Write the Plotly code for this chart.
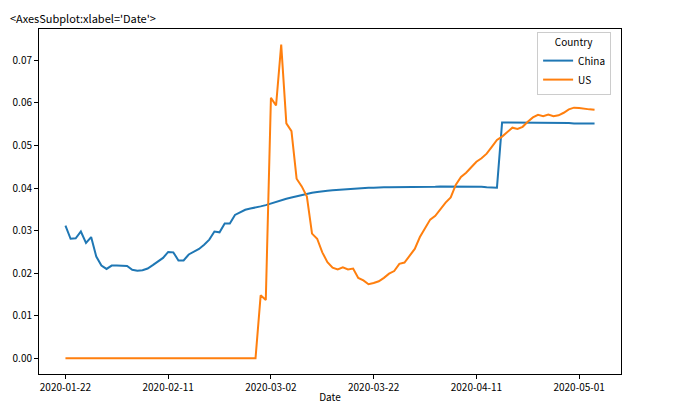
import pandas as pd
import plotly.graph_objects as go

start_date = "2020-01-22"

china = [
    0.0312, 0.0281, 0.0282, 0.0298, 0.0271, 0.0285, 0.0239, 0.0218, 0.0210, 0.0218,
    0.0218, 0.0218, 0.0217, 0.0208, 0.0206, 0.0207, 0.0211, 0.0219, 0.0227, 0.0236,
    0.0250, 0.0249, 0.0230, 0.0230, 0.0244, 0.0250, 0.0257, 0.0267, 0.0279, 0.0298,
    0.0296, 0.0317, 0.0317, 0.0337, 0.0344, 0.0349, 0.0352, 0.0354, 0.0357, 0.0360,
    0.0364, 0.0368, 0.0372, 0.0375, 0.0378, 0.0381, 0.0384, 0.0386, 0.0389, 0.0391,
    0.0393, 0.0394, 0.0395, 0.0396, 0.0397, 0.0398, 0.0399, 0.0400, 0.0400, 0.0401,
    0.0401, 0.0402, 0.0402, 0.0402, 0.0402, 0.0402, 0.0402, 0.0402, 0.0403, 0.0403,
    0.0403, 0.0403, 0.0403, 0.0404, 0.0404, 0.0404, 0.0404, 0.0404, 0.0404, 0.0403,
    0.0403, 0.0403, 0.0402, 0.0402, 0.0401,
    0.0554, 0.0554, 0.0554, 0.0554, 0.0554, 0.0553, 0.0553, 0.0553, 0.0553, 0.0553,
    0.0553, 0.0553, 0.0553, 0.0553, 0.0552, 0.0552, 0.0552, 0.0552, 0.0552,
]

us = [
    0.0, 0.0, 0.0, 0.0, 0.0, 0.0, 0.0, 0.0, 0.0, 0.0,
    0.0, 0.0, 0.0, 0.0, 0.0, 0.0, 0.0, 0.0, 0.0, 0.0,
    0.0, 0.0, 0.0, 0.0, 0.0, 0.0, 0.0, 0.0, 0.0, 0.0,
    0.0, 0.0, 0.0, 0.0, 0.0, 0.0, 0.0, 0.0,
    0.0148, 0.0137, 0.0612, 0.0594, 0.0737, 0.0552, 0.0534, 0.0422, 0.0404, 0.0380,
    0.0293, 0.0281, 0.0249, 0.0226, 0.0213, 0.0209, 0.0214, 0.0209, 0.0211, 0.0189,
    0.0183, 0.0174, 0.0177, 0.0181, 0.0189, 0.0199, 0.0205, 0.0222, 0.0225, 0.0241,
    0.0257, 0.0285, 0.0306, 0.0326, 0.0335, 0.0351, 0.0366, 0.0378, 0.0408, 0.0426,
    0.0436, 0.0449, 0.0462, 0.0470, 0.0481, 0.0497, 0.0513, 0.0521, 0.0532, 0.0542,
    0.0539, 0.0544, 0.0556, 0.0566, 0.0572, 0.0569, 0.0573, 0.0569, 0.0571, 0.0577,
    0.0585, 0.0589, 0.0588, 0.0586, 0.0585, 0.0584,
]

x_ticks = ["2020-01-22", "2020-02-11", "2020-03-02", "2020-03-22", "2020-04-11", "2020-05-01"]
y_ticks = [0.00, 0.01, 0.02, 0.03, 0.04, 0.05, 0.06, 0.07]

dates = pd.date_range(start_date, periods=len(china), freq="D")

FONT = "Noto Sans CJK SC"

fig = go.Figure()
fig.add_trace(go.Scatter(x=dates, y=china, mode="lines", name="China",
                         line=dict(color="#1f77b4", width=2)))
fig.add_trace(go.Scatter(x=dates, y=us, mode="lines", name="US",
                         line=dict(color="#ff7f0e", width=2)))

span = dates[-1] - dates[0]
pad = span * 0.05
x_range = [dates[0] - pad, dates[-1] + pad]
ymax = max(max(china), max(us))
ymin = min(min(china), min(us))
ypad = (ymax - ymin) * 0.05

# page body has an 8px default margin; size the figure so it fits the window
fig.update_layout(
    width=681, height=396,
    margin=dict(l=31, r=68, t=21, b=30, autoexpand=False),
    paper_bgcolor="white", plot_bgcolor="white",
    font=dict(family=FONT, size=10, color="black"),
    showlegend=True,
    legend=dict(
        title=dict(text="Country", side="top center", font=dict(family=FONT, size=10)),
        x=0.983, xanchor="right", y=0.991, yanchor="top",
        bordercolor="#cccccc", borderwidth=1, bgcolor="rgba(255,255,255,0.8)",
        font=dict(family=FONT, size=10), tracegroupgap=0, itemwidth=30,
    ),
    xaxis=dict(
        range=x_range, showgrid=False, zeroline=False, automargin=False,
        showline=True, linecolor="black", linewidth=1, mirror=True,
        ticks="outside", ticklen=4, tickcolor="black",
        tickvals=x_ticks, ticktext=x_ticks,
        title=dict(text="Date", standoff=2, font=dict(family=FONT, size=10)),
    ),
    yaxis=dict(
        range=[ymin - ypad, ymax + ypad], showgrid=False, zeroline=False, automargin=False,
        showline=True, linecolor="black", linewidth=1, mirror=True,
        ticks="outside", ticklen=4, tickcolor="black",
        tickvals=y_ticks, tickformat=".2f",
    ),
    annotations=[dict(
        text="<AxesSubplot:xlabel='Date'>", xref="paper", yref="paper",
        x=-31 / 582, y=1 + 21 / 345, xanchor="left", yanchor="top", showarrow=False,
        font=dict(family=FONT, size=11, color="black"),
    )],
)

fig.write_html("out.html")
